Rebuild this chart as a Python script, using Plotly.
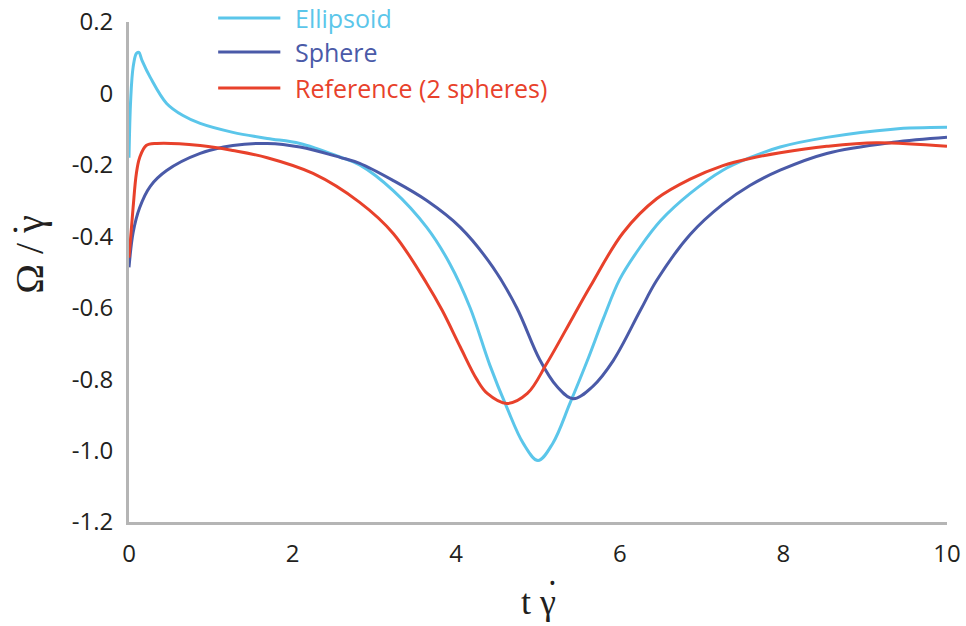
import plotly.graph_objects as go

# values
x_ell = [0, 0.02, 0.05, 0.09, 0.12, 0.16, 0.26, 0.46, 0.66, 0.87, 1.27, 1.69, 2.09, 2.58,
         2.82, 3.23, 3.64, 3.92, 4.17, 4.41, 4.62, 4.82, 5.0, 5.18, 5.39, 5.6, 5.8, 6.0,
         6.25, 6.5, 6.86, 7.26, 7.59, 7.96, 8.53, 9.34, 10]
y_ell = [-0.18, -0.02, 0.073, 0.112, 0.115, 0.092, 0.045, -0.028, -0.062, -0.084, -0.109,
         -0.126, -0.14, -0.178, -0.20, -0.272, -0.375, -0.476, -0.60, -0.76, -0.88, -0.98,
         -1.028, -0.98, -0.868, -0.75, -0.63, -0.52, -0.43, -0.356, -0.28, -0.215, -0.18,
         -0.15, -0.123, -0.10, -0.095]

x_sph = [0, 0.05, 0.13, 0.26, 0.46, 0.87, 1.27, 1.69, 2.09, 2.58, 2.82, 3.23, 3.64, 4.05,
         4.45, 4.74, 5.02, 5.23, 5.43, 5.67, 5.92, 6.25, 6.45, 6.86, 7.26, 7.59, 7.96, 8.53,
         9.34, 10]
y_sph = [-0.487, -0.39, -0.32, -0.26, -0.216, -0.168, -0.146, -0.14, -0.15, -0.179, -0.196,
         -0.244, -0.30, -0.375, -0.487, -0.60, -0.745, -0.82, -0.855, -0.82, -0.748, -0.608,
         -0.524, -0.395, -0.31, -0.258, -0.215, -0.168, -0.137, -0.123]

x_ref = [0, 0.05, 0.09, 0.13, 0.21, 0.34, 0.87, 1.27, 1.69, 2.25, 2.82, 3.23, 3.64, 3.83,
         4.05, 4.25, 4.38, 4.62, 4.87, 5.11, 5.43, 5.64, 6.04, 6.45, 6.86, 7.26, 7.59, 7.96,
         8.53, 9.14, 10]
y_ref = [-0.46, -0.32, -0.224, -0.18, -0.146, -0.14, -0.146, -0.16, -0.18, -0.224, -0.305,
         -0.392, -0.532, -0.608, -0.71, -0.80, -0.84, -0.868, -0.84, -0.755, -0.625, -0.54,
         -0.39, -0.295, -0.24, -0.202, -0.182, -0.166, -0.148, -0.138, -0.148]

names = ['Ellipsoid', 'Sphere', 'Reference (2 spheres)']
colors = ['#5bc6ea', '#4a5aa8', '#e8412b']

y_tickvals = [0.2, 0, -0.2, -0.4, -0.6, -0.8, -1.0, -1.2]
y_ticktext = ['0.2', '0', '-0.2', '-0.4', '-0.6', '-0.8', '-1.0', '-1.2']
x_tickvals = [0, 2, 4, 6, 8, 10]

font_sans = 'Open Sans'
font_serif = 'Liberation Serif'
ink = '#231f20'

fig = go.Figure()
for xs, ys, c, n in zip([x_ell, x_sph, x_ref], [y_ell, y_sph, y_ref], colors, names):
    fig.add_trace(go.Scatter(x=xs, y=ys, mode='lines', name=n, showlegend=False,
                             line=dict(color=c, width=3, shape='spline', smoothing=1)))

# hand-made legend (longer line samples, coloured labels)
leg_y = [1.008, 0.94, 0.868]
for c, n, ly in zip(colors, names, leg_y):
    fig.add_shape(type='line', xref='paper', yref='paper', x0=0.109, x1=0.185, y0=ly, y1=ly,
                  line=dict(color=c, width=3))
    fig.add_annotation(xref='paper', yref='paper', x=0.2, y=ly, text=n, showarrow=False,
                       xanchor='left', yanchor='middle',
                       font=dict(family=font_sans, size=25, color=c))

# axis titles (gamma with a big dot on top)
fig.add_annotation(xref='paper', yref='paper', x=0.5, y=-0.16, text='t γ', showarrow=False,
                   xanchor='center', yanchor='middle', font=dict(family=font_serif, size=36, color=ink))
fig.add_annotation(xref='paper', yref='paper', x=0.518, y=-0.121, text='•', showarrow=False,
                   xanchor='center', yanchor='middle', font=dict(family=font_sans, size=18, color=ink))
fig.add_annotation(xref='paper', yref='paper', x=-0.122, y=0.535, text='Ω / γ', showarrow=False,
                   textangle=-90, xanchor='center', yanchor='middle',
                   font=dict(family=font_serif, size=40, color=ink))
fig.add_annotation(xref='paper', yref='paper', x=-0.139, y=0.584, text='•', showarrow=False,
                   xanchor='center', yanchor='middle',
                   font=dict(family=font_sans, size=18, color=ink))

fig.update_layout(
    width=966, height=626,
    margin=dict(l=129, r=19, t=22, b=104),
    paper_bgcolor='white', plot_bgcolor='white',
    xaxis=dict(range=[0, 10], tickvals=x_tickvals, showgrid=False, zeroline=False,
               showline=True, linecolor='#b5b5b5', linewidth=3, ticks='', automargin=False,
               ticklabelstandoff=8, ticklabeloverflow='allow',
               tickfont=dict(family=font_sans, size=24, color=ink)),
    yaxis=dict(range=[-1.2, 0.2], tickvals=y_tickvals, ticktext=y_ticktext, showgrid=False,
               zeroline=False, showline=True, linecolor='#b5b5b5', linewidth=3, ticks='',
               automargin=False, ticklabelstandoff=8, ticklabeloverflow='allow',
               tickfont=dict(family=font_sans, size=24, color=ink)),
)

# drop the default 8px body margin so the figure fills the window
fig.write_html('out.html', config={'displayModeBar': False},
               post_script="document.body.style.margin='0';")
